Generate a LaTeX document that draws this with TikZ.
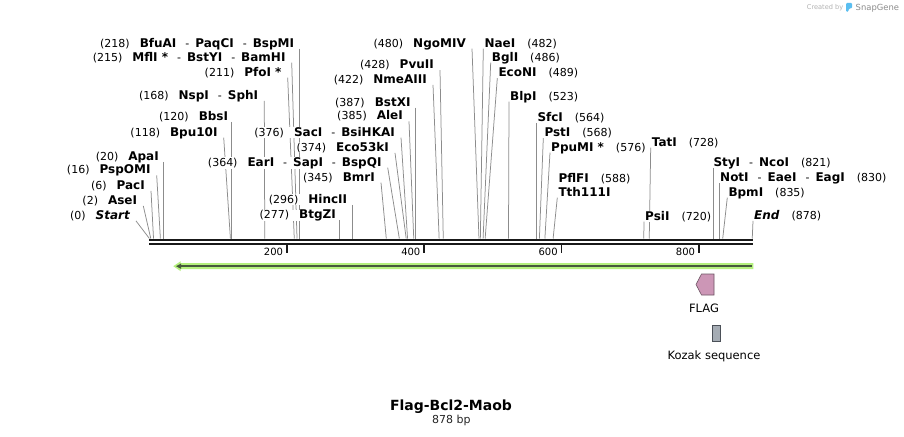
\documentclass[tikz,border=0pt]{standalone}
\usepackage{fontspec}
\setmainfont{DejaVu Sans}
\definecolor{leadgray}{RGB}{140,140,140}
\definecolor{barblack}{RGB}{25,25,25}
\definecolor{lgreen}{RGB}{180,240,125}
\definecolor{dgreen}{RGB}{70,88,60}
\definecolor{flagpink}{RGB}{204,150,182}
\definecolor{flagedge}{RGB}{110,85,100}
\definecolor{kozakfill}{RGB}{165,172,180}
\definecolor{kozakedge}{RGB}{75,80,88}
\definecolor{sgblue}{RGB}{90,190,240}
\pgfdeclarelayer{back}
\pgfdeclarelayer{lines}
\pgfsetlayers{back,lines,main}
\newcommand{\en}[1]{{\fontsize{12}{14}\selectfont\bfseries #1}}
\newcommand{\pn}[1]{{\fontsize{11}{13}\selectfont(#1)}}
\newcommand{\dsh}{\hspace{9pt}{\fontsize{11}{13}\selectfont-}\hspace{6pt}}
\newcommand{\gl}{\hspace{10pt}}
\newcommand{\gr}{\hspace{12pt}}
\newcommand{\LL}[5]{%
  \pgfmathsetmacro{\cx}{149.4+#5*0.6866}%
  \pgfmathsetmacro{\dx}{min(6,\cx-#2)}%
  \coordinate (#1c) at (\cx,238.5);%
  \node[lab,anchor=base east] (#1) at (#2,#3+4.4) {#4};%
  \begin{pgfonlayer}{lines}\draw[leader] ([xshift=\dx pt,yshift=-1.5pt]#1.base east) -- (#1c);\end{pgfonlayer}%
}
\newcommand{\RL}[5]{%
  \pgfmathsetmacro{\cx}{149.4+#5*0.6866}%
  \pgfmathsetmacro{\dx}{max(-1,\cx-#2)}%
  \coordinate (#1c) at (\cx,238.5);%
  \node[lab,anchor=base west] (#1) at (#2,#3+4.4) {#4};%
  \begin{pgfonlayer}{lines}\draw[leader] ([xshift=\dx pt,yshift=-1.5pt]#1.base west) -- (#1c);\end{pgfonlayer}%
}
\begin{document}
\begin{tikzpicture}[x=1pt,y=-1pt,
  lab/.style={inner sep=0pt, fill=white},
  leader/.style={draw=leadgray, line width=0.75pt},
  barline/.style={draw=barblack, line width=2pt}]
\begin{pgfonlayer}{back}
\fill[white] (0,0) rectangle (904,436);
\end{pgfonlayer}
\useasboundingbox (0,0) rectangle (904,436);

% left labels
\LL{bfu}{294.3}{42.7}{\pn{218}\gl\en{BfuAI}\dsh\en{PaqCI}\dsh\en{BspMI}}{218}
\LL{mfl}{285.7}{56.7}{\pn{215}\gl\en{MflI *}\dsh\en{BstYI}\dsh\en{BamHI}}{215}
\LL{pfo}{281.7}{71.7}{\pn{211}\gl\en{PfoI *}}{211}
\LL{nsp}{258.3}{95}{\pn{168}\gl\en{NspI}\dsh\en{SphI}}{168}
\LL{bbs}{228.3}{116}{\pn{120}\gl\en{BbsI}}{120}
\LL{bpu}{217.7}{131.7}{\pn{118}\gl\en{Bpu10I}}{118}
\LL{apa}{159}{156}{\pn{20}\gl\en{ApaI}}{20}
\LL{psp}{150.7}{169.5}{\pn{16}\gl\en{PspOMI}}{16}
\LL{pac}{145}{185}{\pn{6}\gl\en{PacI}}{6}
\LL{ase}{137.3}{200}{\pn{2}\gl\en{AseI}}{2}
\LL{start}{130}{215}{\pn{0}\gl\en{\itshape Start}}{0}
\LL{sac}{395}{131.7}{\pn{376}\gl\en{SacI}\dsh\en{BsiHKAI}}{376}
\LL{ecok}{389}{147}{\pn{374}\gl\en{Eco53kI}}{374}
\LL{ear}{381.7}{161.7}{\pn{364}\gl\en{EarI}\dsh\en{SapI}\dsh\en{BspQI}}{364}
\LL{bmr}{375}{176.7}{\pn{345}\gl\en{BmrI}}{345}
\LL{hinc}{347.3}{199}{\pn{296}\gl\en{HincII}}{296}
\LL{btg}{336}{214.3}{\pn{277}\gl\en{BtgZI}}{277}
\LL{bstx}{410.7}{101.7}{\pn{387}\gl\en{BstXI}}{387}
\LL{ale}{403}{115.5}{\pn{385}\gl\en{AleI}}{385}
\LL{nme}{427}{79}{\pn{422}\gl\en{NmeAIII}}{422}
\LL{pvu}{434}{64.3}{\pn{428}\gl\en{PvuII}}{428}
\LL{ngo}{466}{42.7}{\pn{480}\gl\en{NgoMIV}}{480}

% right labels
\RL{nae}{484.3}{42.7}{\en{NaeI}\gr\pn{482}}{482}
\RL{bgl}{491.7}{56.7}{\en{BglI}\gr\pn{486}}{486}
\RL{econ}{498.3}{72.3}{\en{EcoNI}\gr\pn{489}}{489}
\RL{blp}{510}{95.7}{\en{BlpI}\gr\pn{523}}{523}
\RL{sfc}{537.3}{117}{\en{SfcI}\gr\pn{564}}{564}
\RL{pst}{544.3}{132.3}{\en{PstI}\gr\pn{568}}{568}
\RL{ppu}{551}{146.7}{\en{PpuMI *}\gr\pn{576}}{576}
\node[lab,anchor=base west] (pfl) at (558.3,178.3+4.4) {\en{PflFI}\gr\pn{588}};
\RL{tth}{558.3}{191.7}{\en{Tth111I}}{588}
\RL{tat}{651.7}{141.7}{\en{TatI}\gr\pn{728}}{728}
\RL{psi}{645}{215.7}{\en{PsiI}\gr\pn{720}}{720}
\RL{sty}{713.3}{161.7}{\en{StyI}\dsh\en{NcoI}\gr\pn{821}}{821}
\RL{noti}{720}{177.3}{\en{NotI}\dsh\en{EaeI}\dsh\en{EagI}\gr\pn{830}}{830}
\RL{bpm}{728.3}{191.7}{\en{BpmI}\gr\pn{835}}{835}
\RL{endl}{754}{215}{\en{\itshape End}\gr\pn{878}}{878}

% sequence bar
\coordinate (b0t) at (149.4,240);
\coordinate (b1t) at (752.6,240);
\coordinate (b0b) at (149.4,244);
\coordinate (b1b) at (752.6,244);
\draw[barline] (b0t) -- (b1t);
\draw[barline] (b0b) -- (b1b);
\foreach \v in {200,400,600,800}{
  \pgfmathsetmacro{\tx}{149.4+\v*0.6866}
  \coordinate (tk\v) at (\tx,244);
  \draw[draw=barblack, line width=1.7pt] (tk\v) -- ++(0,8.5);
  \node[anchor=east, inner sep=0pt, font=\fontsize{10}{12}\selectfont] (tl\v) at (\tx-3.5,251.7) {\v};
}

% green ORF arrow
\fill[lgreen] (753.3,263.2) -- (180.7,263.2) -- (180.7,261.2) -- (173.3,266.2) -- (180.7,271.2) -- (180.7,269.2) -- (753.3,269.2) -- cycle;
\draw[dgreen, line width=2.2pt] (751.7,266.2) -- (180,266.2);
\fill[dgreen] (176,266.2) -- (181,263.6) -- (181,268.8) -- cycle;

% FLAG feature
\filldraw[fill=flagpink, draw=flagedge, line width=0.6pt] (714,274) -- (701.5,274) -- (696,284.5) -- (701.5,295) -- (714,295) -- cycle;
\node[anchor=base, inner sep=0pt, font=\fontsize{11.5}{13}\selectfont] (flag) at (704,312) {FLAG};

% Kozak feature
\filldraw[fill=kozakfill, draw=kozakedge, line width=0.6pt] (712.3,325) rectangle (720,341.7);
\node[anchor=base, inner sep=0pt, font=\fontsize{11.5}{13}\selectfont] (kozak) at (714,359.2) {Kozak sequence};

% title
\node[anchor=base, inner sep=0pt, font=\fontsize{14}{16}\selectfont\bfseries] (title) at (451,410.8) {Flag-Bcl2-Maob};
\node[anchor=base, inner sep=0pt, font=\fontsize{11}{13}\selectfont, text=black!85] (len) at (451.3,423.3) {878 bp};

% credit
\node[anchor=base west, inner sep=0pt, font=\fontsize{6.6}{8}\selectfont, text=black!30] (cb) at (806.7,9.8) {Created by};
\fill[sgblue, rounded corners=1.2pt] (846,2.8) -- (852,2.8) -- (852,8.5) -- (848.6,8.5) -- (848.6,11.8) -- (846,11.8) -- cycle;
\node[anchor=base west, inner sep=0pt, font=\fontsize{8.4}{10}\selectfont, text=black!45] (sg) at (855.5,10.3) {SnapGene};
\end{tikzpicture}
\end{document}
